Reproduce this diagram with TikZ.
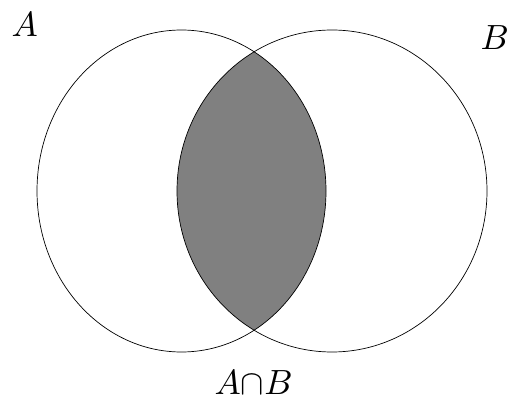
\documentclass[tikz,border=0pt]{standalone}
\begin{document}
\begin{tikzpicture}[x=1pt,y=-1pt,
  outline/.style={draw=black, line width=0.7pt},
  lensfill/.style={fill=black!50},
  lbl/.style={inner sep=0pt, anchor=base west, scale=3.5}]
\useasboundingbox (0,0) rectangle (509,401);
\fill[white] (0,0) rectangle (509,401);
\coordinate (ca) at (181.5,191);
\coordinate (cb) at (332,191);
\begin{scope}
  \clip (ca) ellipse [x radius=144.5pt, y radius=161pt];
  \fill[lensfill] (cb) ellipse [x radius=155pt, y radius=161pt];
\end{scope}
\draw[outline] (ca) ellipse [x radius=144.5pt, y radius=161pt];
\draw[outline] (cb) ellipse [x radius=155pt, y radius=161pt];
\node[lbl] (la) at (11,37) {$A$};
\node[lbl] (lb) at (480,50) {$B$};
\node[lbl] (lab) at (214,394) {$A{\cap}B$};
\end{tikzpicture}
\end{document}
